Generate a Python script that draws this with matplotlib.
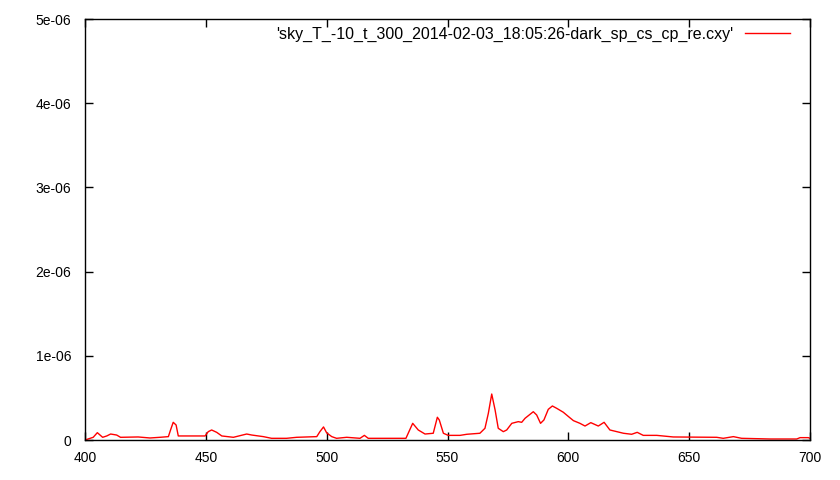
import matplotlib
matplotlib.use("Agg")
import matplotlib.pyplot as plt
import numpy as np

plt.rcParams['font.family'] = ['Liberation Sans', 'DejaVu Sans']

wavelength = [400.0, 403.4, 405.1, 407.3, 409.0, 410.6, 413.1, 414.7, 422.0, 426.9, 431.0, 434.5,
              435.4, 436.5, 437.7, 438.6, 449.7, 451.0, 452.4, 454.5, 456.6, 461.4, 466.9, 469.0,
              473.8, 477.2, 483.4, 487.6, 495.9, 497.2, 498.7, 500.0, 502.1, 504.1, 508.3, 513.8,
              515.6, 517.2, 532.8, 535.6, 537.9, 540.7, 544.1, 545.8, 546.6, 548.3, 550.3, 555.2,
              558.0, 563.4, 565.5, 566.9, 568.3, 569.7, 571.0, 573.1, 574.5, 576.6, 579.3, 580.7,
              582.1, 585.5, 586.9, 588.5, 589.9, 591.7, 593.4, 595.2, 597.9, 600.4, 602.1, 604.8,
              606.9, 609.3, 612.4, 614.8, 617.2, 622.8, 626.2, 628.5, 631.0, 636.6, 643.4, 661.4,
              664.1, 668.3, 671.7, 683.5, 694.5, 695.9, 699.3, 700.0]
intensity_e6 = [0.0, 0.032, 0.087, 0.032, 0.048, 0.071, 0.059, 0.032, 0.036, 0.024, 0.032, 0.040,
                0.119, 0.210, 0.178, 0.048, 0.048, 0.099, 0.119, 0.091, 0.048, 0.032, 0.071, 0.059,
                0.040, 0.020, 0.020, 0.032, 0.040, 0.099, 0.155, 0.085, 0.040, 0.020, 0.032, 0.020,
                0.055, 0.020, 0.020, 0.198, 0.119, 0.071, 0.080, 0.270, 0.238, 0.080, 0.055, 0.055,
                0.068, 0.080, 0.139, 0.317, 0.546, 0.356, 0.139, 0.099, 0.119, 0.198, 0.218, 0.210,
                0.258, 0.336, 0.297, 0.198, 0.238, 0.364, 0.404, 0.376, 0.330, 0.270, 0.230, 0.198,
                0.166, 0.206, 0.166, 0.210, 0.119, 0.080, 0.068, 0.091, 0.055, 0.055, 0.036, 0.032,
                0.020, 0.040, 0.020, 0.012, 0.012, 0.028, 0.028, 0.020]
intensity = np.array(intensity_e6) * 1e-6

xticks = [400, 450, 500, 550, 600, 650, 700]
yticks = [0, 1e-6, 2e-6, 3e-6, 4e-6, 5e-6]
ytick_labels = ['0', '1e-06', '2e-06', '3e-06', '4e-06', '5e-06']
label = "'sky_T_-10_t_300_2014-02-03_18:05:26-dark_sp_cs_cp_re.cxy'"

fig = plt.figure(figsize=(8.4, 4.8), dpi=100)
ax = fig.add_axes([85/840, 40/480, 725/840, 421/480])
ax.plot(wavelength, intensity, color='#ff0000', lw=1.0, label=label)
ax.set_xlim(400, 700)
ax.set_ylim(0, 5e-6)
ax.set_xticks(xticks)
ax.set_xticklabels([str(t) for t in xticks])
ax.set_yticks(yticks)
ax.set_yticklabels(ytick_labels)
ax.tick_params(direction='in', top=True, right=True, length=6, width=1, labelsize=10)
ax.tick_params(axis='y', pad=10)
ax.tick_params(axis='x', pad=8)
for s in ax.spines.values():
    s.set_linewidth(1)
ax.legend(loc='upper right', frameon=False, markerfirst=False, handlelength=2.8,
          fontsize=11.5, borderaxespad=0, borderpad=0, handletextpad=0.75,
          bbox_to_anchor=(0.9724, 0.981))
fig.savefig('out.png', dpi=100)
